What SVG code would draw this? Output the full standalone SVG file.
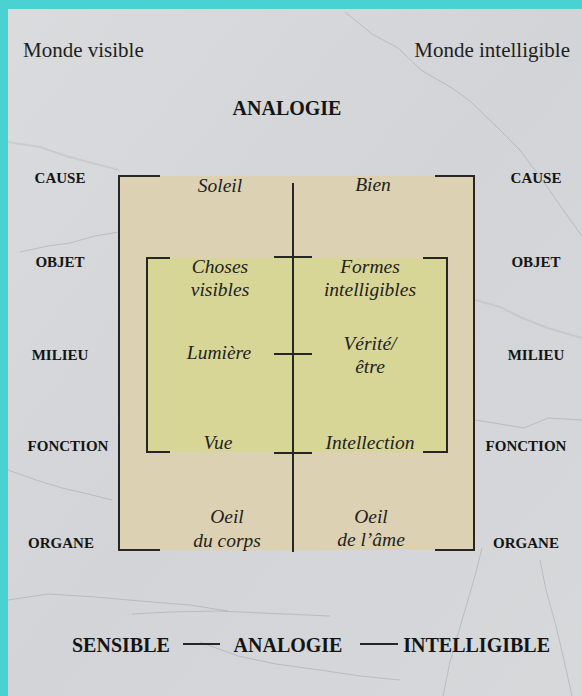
<svg xmlns="http://www.w3.org/2000/svg" width="582" height="696" viewBox="0 0 582 696">
<defs>
<linearGradient id="marble" x1="0" y1="0" x2="1" y2="1">
<stop offset="0" stop-color="#d9dbdd"/>
<stop offset="0.5" stop-color="#d2d4d7"/>
<stop offset="1" stop-color="#d6d8da"/>
</linearGradient>
<style>
.vein{fill:none;stroke:#8f949b;stroke-width:1;opacity:0.4;stroke-linejoin:round}
.vein2{fill:none;stroke:#a9adb3;stroke-width:2;opacity:0.3;stroke-linejoin:round}
.ln{fill:none;stroke:#262626;stroke-width:2}
.top{font-family:"Liberation Serif",serif;font-size:21px;fill:#1e1e1e}
.cap{font-family:"Liberation Serif",serif;font-size:15px;font-weight:bold;fill:#141414}
.big{font-family:"Liberation Serif",serif;font-size:20px;font-weight:bold;fill:#141414}
.it{font-family:"Liberation Serif",serif;font-size:19.5px;font-style:italic;fill:#222;text-anchor:middle}
</style>
</defs>
<rect x="0" y="0" width="582" height="696" fill="#4ad2d2"/>
<rect x="8" y="9" width="574" height="687" fill="url(#marble)"/>
<g id="veins">
<path class="vein" d="M345 12 L372 34 L398 48 L421 70 L452 88 L470 101 L498 128 L520 150 L548 188 L566 214 L582 236"/>
<path class="vein" d="M20 252 L48 246 L70 243 L95 236 L119 232"/>
<path class="vein2" d="M8 142 L40 147 L66 156 L92 163 L119 170"/>
<path class="vein" d="M482 548 L476 572 L468 600 L458 634 L450 662 L443 696"/>
<path class="vein" d="M540 560 L546 590 L556 626 L564 660 L572 696"/>
<path class="vein" d="M8 600 L48 594 L96 597 L140 601 L190 605 L228 611"/>
<path class="vein" d="M132 614 L170 612 L218 611 L262 613 L330 616"/>
<path class="vein2" d="M475 300 L500 307 L522 318 L548 328 L582 338"/>
<path class="vein" d="M8 470 L36 480 L62 488 L88 494 L112 500"/>
<path class="vein" d="M200 642 L238 656 L276 664 L320 670 L360 676 L400 680"/>
<path class="vein" d="M475 420 L500 424 L524 428 L548 418 L582 420"/>
</g>
<g id="box-outer">
<rect x="119" y="176" width="355" height="374" fill="#ddd0b0" opacity="0.92"/>
</g>
<g id="box-inner">
<rect x="147" y="258" width="300" height="194" fill="#d7d696" opacity="0.95"/>
</g>
<g id="connectors">
<path class="ln" d="M160 176 H119 V550 H160"/>
<path class="ln" d="M435 176 H474 V550 H435"/>
<path class="ln" d="M170 258 H147 V452 H170"/>
<path class="ln" d="M423 258 H447 V452 H423"/>
<path class="ln" d="M293 183 V552"/>
<path class="ln" d="M274 257 H312"/>
<path class="ln" d="M274 354 H312"/>
<path class="ln" d="M274 453 H312"/>
<path class="ln" d="M183 644 H220" stroke-width="1.6"/>
<path class="ln" d="M360 644 H398" stroke-width="1.6"/>
</g>
<g id="titles">
<text class="top" x="23" y="57">Monde visible</text>
<text class="top" x="570" y="57" text-anchor="end">Monde intelligible</text>
<text class="big" x="287" y="115" text-anchor="middle">ANALOGIE</text>
</g>
<g id="labels-left">
<text class="cap" x="60" y="183" text-anchor="middle">CAUSE</text>
<text class="cap" x="60" y="267" text-anchor="middle">OBJET</text>
<text class="cap" x="60" y="360" text-anchor="middle">MILIEU</text>
<text class="cap" x="68" y="451" text-anchor="middle">FONCTION</text>
<text class="cap" x="61" y="548" text-anchor="middle">ORGANE</text>
</g>
<g id="labels-right">
<text class="cap" x="536" y="183" text-anchor="middle">CAUSE</text>
<text class="cap" x="536" y="267" text-anchor="middle">OBJET</text>
<text class="cap" x="536" y="360" text-anchor="middle">MILIEU</text>
<text class="cap" x="526" y="451" text-anchor="middle">FONCTION</text>
<text class="cap" x="526" y="548" text-anchor="middle">ORGANE</text>
</g>
<g id="node-soleil"><text class="it" x="220" y="192">Soleil</text></g>
<g id="node-bien"><text class="it" x="373" y="191">Bien</text></g>
<g id="node-choses"><text class="it" x="220" y="273">Choses</text><text class="it" x="220" y="296">visibles</text></g>
<g id="node-formes"><text class="it" x="370" y="273">Formes</text><text class="it" x="370" y="296">intelligibles</text></g>
<g id="node-lumiere"><text class="it" x="219" y="359">Lumière</text></g>
<g id="node-verite"><text class="it" x="370" y="350">Vérité/</text><text class="it" x="370" y="373">être</text></g>
<g id="node-vue"><text class="it" x="218" y="449">Vue</text></g>
<g id="node-intellection"><text class="it" x="370" y="449">Intellection</text></g>
<g id="node-oeil-corps"><text class="it" x="227" y="523">Oeil</text><text class="it" x="227" y="547">du corps</text></g>
<g id="node-oeil-ame"><text class="it" x="371" y="523">Oeil</text><text class="it" x="371" y="546">de l’âme</text></g>
<g id="footer">
<text class="big" x="72" y="652">SENSIBLE</text>
<text class="big" x="288" y="652" text-anchor="middle">ANALOGIE</text>
<text class="big" x="550" y="652" text-anchor="end">INTELLIGIBLE</text>
</g>
</svg>
